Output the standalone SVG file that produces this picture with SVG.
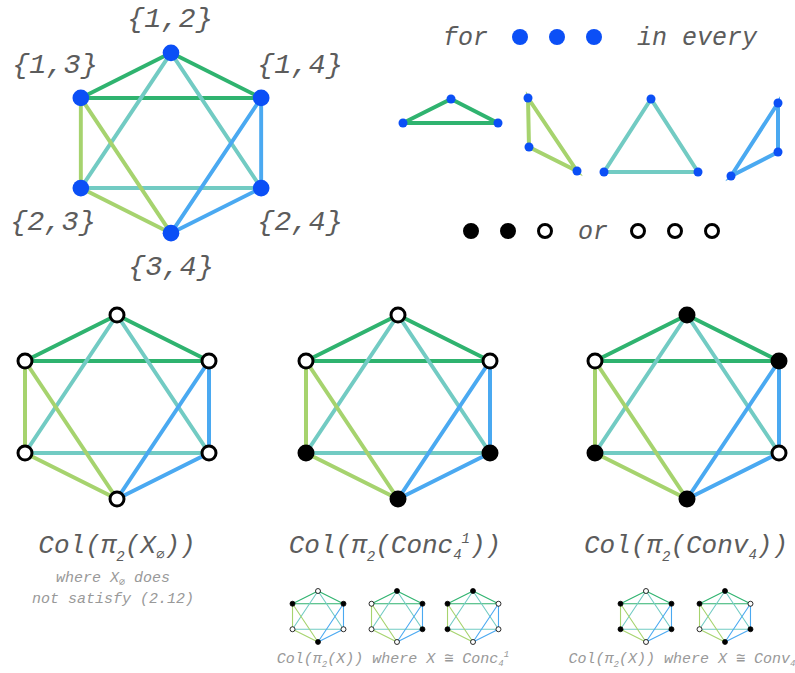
<svg xmlns="http://www.w3.org/2000/svg" xmlns:xlink="http://www.w3.org/1999/xlink" width="795" height="673" viewBox="0 0 795 673">
<style>
.t{font-family:"Liberation Mono","DejaVu Sans Mono",monospace;font-style:italic;fill:#5c5c5c}
.g{fill:#999}
.e{fill:none;stroke-width:4;stroke-linecap:round}
.dg{stroke:#2fb36f}
.lg{stroke:#a6d36e}
.tl{stroke:#72cbc3}
.bl{stroke:#4aa9f1}
.bn{fill:#0b4ff6}
.o{fill:#fff;stroke:#000;stroke-width:3}
.f{fill:#000;stroke:#000;stroke-width:3}
</style>
<defs>
<g id="hexEdges">
<line class="e dg" x1="0" y1="-92" x2="-92" y2="-46"/>
<line class="e dg" x1="0" y1="-92" x2="92" y2="-46"/>
<line class="e dg" x1="-92" y1="-46" x2="92" y2="-46"/>
<line class="e tl" x1="0" y1="-92" x2="-92" y2="46"/>
<line class="e tl" x1="0" y1="-92" x2="92" y2="46"/>
<line class="e tl" x1="-92" y1="46" x2="92" y2="46"/>
<line class="e lg" x1="-92" y1="-46" x2="-92" y2="46"/>
<line class="e lg" x1="-92" y1="-46" x2="0" y2="92"/>
<line class="e lg" x1="-92" y1="46" x2="0" y2="92"/>
<line class="e bl" x1="92" y1="-46" x2="92" y2="46"/>
<line class="e bl" x1="92" y1="-46" x2="0" y2="92"/>
<line class="e bl" x1="92" y1="46" x2="0" y2="92"/>
</g>
</defs>

<!-- top-left labelled hexagon -->
<g id="hexTop" transform="translate(171,143) scale(0.98)">
<g id="hexTop-edges"><use xlink:href="#hexEdges"/></g>
<g id="n12"><circle class="bn" cx="0" cy="-92" r="8.5"/></g>
<g id="n13"><circle class="bn" cx="-92" cy="-46" r="8.5"/></g>
<g id="n14"><circle class="bn" cx="92" cy="-46" r="8.5"/></g>
<g id="n23"><circle class="bn" cx="-92" cy="46" r="8.5"/></g>
<g id="n24"><circle class="bn" cx="92" cy="46" r="8.5"/></g>
<g id="n34"><circle class="bn" cx="0" cy="92" r="8.5"/></g>
</g>
<g id="hexTop-labels" class="t" font-size="28.5">
<text x="170" y="27" text-anchor="middle">{1,2}</text>
<text x="55" y="73" text-anchor="middle">{1,3}</text>
<text x="300" y="73" text-anchor="middle">{1,4}</text>
<text x="53" y="230" text-anchor="middle">{2,3}</text>
<text x="300" y="230" text-anchor="middle">{2,4}</text>
<text x="171" y="275" text-anchor="middle">{3,4}</text>
</g>

<!-- legend -->
<g id="legend">
<text class="t" x="443" y="45" font-size="25">for</text>
<circle class="bn" cx="520" cy="37" r="8"/>
<circle class="bn" cx="557" cy="37" r="8"/>
<circle class="bn" cx="594" cy="37" r="8"/>
<text class="t" x="637" y="45" font-size="25">in every</text>
<g id="tri1">
<polygon class="e dg" points="403,123 451,99 498,123"/>
<circle class="bn" cx="403" cy="123" r="4.5"/><circle class="bn" cx="451" cy="99" r="4.5"/><circle class="bn" cx="498" cy="123" r="4.5"/>
</g>
<g id="tri2">
<polygon class="e lg" points="528,98 529,147 577,171"/>
<circle class="bn" cx="528" cy="98" r="4.5"/><circle class="bn" cx="529" cy="147" r="4.5"/><circle class="bn" cx="577" cy="171" r="4.5"/>
</g>
<g id="tri3">
<polygon class="e tl" points="651,99 604,172 698,172"/>
<circle class="bn" cx="651" cy="99" r="4.5"/><circle class="bn" cx="604" cy="172" r="4.5"/><circle class="bn" cx="698" cy="172" r="4.5"/>
</g>
<g id="tri4">
<polygon class="e bl" points="778,103 778,152 731,176"/>
<circle class="bn" cx="778" cy="103" r="4.5"/><circle class="bn" cx="778" cy="152" r="4.5"/><circle class="bn" cx="731" cy="176" r="4.5"/>
</g>
<circle class="f" cx="471" cy="231" r="6.5"/>
<circle class="f" cx="508" cy="231" r="6.5"/>
<circle class="o" cx="545" cy="231" r="6.5"/>
<text class="t" x="578" y="239" font-size="25">or</text>
<circle class="o" cx="638" cy="231" r="6.5"/>
<circle class="o" cx="675" cy="231" r="6.5"/>
<circle class="o" cx="712" cy="231" r="6.5"/>
</g>

<!-- big bottom hexagons -->
<g id="hexA" transform="translate(117,407)">
<g id="hexA-edges"><use xlink:href="#hexEdges"/></g>
<g id="a12"><circle class="o" cx="0" cy="-92" r="7"/></g>
<g id="a13"><circle class="o" cx="-92" cy="-46" r="7"/></g>
<g id="a14"><circle class="o" cx="92" cy="-46" r="7"/></g>
<g id="a23"><circle class="o" cx="-92" cy="46" r="7"/></g>
<g id="a24"><circle class="o" cx="92" cy="46" r="7"/></g>
<g id="a34"><circle class="o" cx="0" cy="92" r="7"/></g>
</g>
<g id="hexB" transform="translate(398,407)">
<g id="hexB-edges"><use xlink:href="#hexEdges"/></g>
<g id="b12"><circle class="o" cx="0" cy="-92" r="7"/></g>
<g id="b13"><circle class="o" cx="-92" cy="-46" r="7"/></g>
<g id="b14"><circle class="o" cx="92" cy="-46" r="7"/></g>
<g id="b23"><circle class="f" cx="-92" cy="46" r="7"/></g>
<g id="b24"><circle class="f" cx="92" cy="46" r="7"/></g>
<g id="b34"><circle class="f" cx="0" cy="92" r="7"/></g>
</g>
<g id="hexC" transform="translate(687,407)">
<g id="hexC-edges"><use xlink:href="#hexEdges"/></g>
<g id="c12"><circle class="f" cx="0" cy="-92" r="7"/></g>
<g id="c13"><circle class="o" cx="-92" cy="-46" r="7"/></g>
<g id="c14"><circle class="f" cx="92" cy="-46" r="7"/></g>
<g id="c23"><circle class="f" cx="-92" cy="46" r="7"/></g>
<g id="c24"><circle class="o" cx="92" cy="46" r="7"/></g>
<g id="c34"><circle class="f" cx="0" cy="92" r="7"/></g>
</g>

<!-- captions -->
<text class="t" x="117" y="553" font-size="26" text-anchor="middle">Col(π<tspan font-size="14" dy="8">2</tspan><tspan dy="-8">(X</tspan><tspan font-size="14" dy="6">∅</tspan><tspan dy="-6">))</tspan></text>
<text class="t g" x="113" y="582" font-size="15" text-anchor="middle">where X<tspan font-size="10" dy="3">∅</tspan><tspan dy="-3"> does</tspan></text>
<text class="t g" x="113" y="603" font-size="15" text-anchor="middle">not satisfy (2.12)</text>

<text class="t" x="395" y="553" font-size="26" text-anchor="middle">Col(π<tspan font-size="14" dy="8">2</tspan><tspan dy="-8">(Conc</tspan><tspan font-size="14" dy="6">4</tspan><tspan font-size="14" dy="-16">1</tspan><tspan dy="10">))</tspan></text>
<text class="t" x="686" y="553" font-size="26" text-anchor="middle">Col(π<tspan font-size="14" dy="8">2</tspan><tspan dy="-8">(Conv</tspan><tspan font-size="14" dy="6">4</tspan><tspan dy="-6">))</tspan></text>

<!-- small hexagons: Conc -->
<g id="s1" transform="translate(318,616.5) scale(0.277)">
<g id="s1-edges"><use xlink:href="#hexEdges"/></g>
<circle class="o" cx="0" cy="-92" r="9" stroke-width="4"/>
<circle class="f" cx="-92" cy="-46" r="9"/>
<circle class="f" cx="92" cy="-46" r="9"/>
<circle class="o" cx="-92" cy="46" r="9" stroke-width="4"/>
<circle class="o" cx="92" cy="46" r="9" stroke-width="4"/>
<circle class="f" cx="0" cy="92" r="9"/>
</g>
<g id="s2" transform="translate(397,616.5) scale(0.277)">
<g id="s2-edges"><use xlink:href="#hexEdges"/></g>
<circle class="f" cx="0" cy="-92" r="9"/>
<circle class="o" cx="-92" cy="-46" r="9" stroke-width="4"/>
<circle class="f" cx="92" cy="-46" r="9"/>
<circle class="o" cx="-92" cy="46" r="9" stroke-width="4"/>
<circle class="f" cx="92" cy="46" r="9"/>
<circle class="o" cx="0" cy="92" r="9" stroke-width="4"/>
</g>
<g id="s3" transform="translate(473,616.5) scale(0.277)">
<g id="s3-edges"><use xlink:href="#hexEdges"/></g>
<circle class="f" cx="0" cy="-92" r="9"/>
<circle class="f" cx="-92" cy="-46" r="9"/>
<circle class="o" cx="92" cy="-46" r="9" stroke-width="4"/>
<circle class="f" cx="-92" cy="46" r="9"/>
<circle class="o" cx="92" cy="46" r="9" stroke-width="4"/>
<circle class="o" cx="0" cy="92" r="9" stroke-width="4"/>
</g>
<!-- small hexagons: Conv -->
<g id="s4" transform="translate(646,616.5) scale(0.277)">
<g id="s4-edges"><use xlink:href="#hexEdges"/></g>
<circle class="o" cx="0" cy="-92" r="9" stroke-width="4"/>
<circle class="f" cx="-92" cy="-46" r="9"/>
<circle class="f" cx="92" cy="-46" r="9"/>
<circle class="f" cx="-92" cy="46" r="9"/>
<circle class="f" cx="92" cy="46" r="9"/>
<circle class="o" cx="0" cy="92" r="9" stroke-width="4"/>
</g>
<g id="s5" transform="translate(725,616.5) scale(0.277)">
<g id="s5-edges"><use xlink:href="#hexEdges"/></g>
<circle class="f" cx="0" cy="-92" r="9"/>
<circle class="f" cx="-92" cy="-46" r="9"/>
<circle class="o" cx="92" cy="-46" r="9" stroke-width="4"/>
<circle class="o" cx="-92" cy="46" r="9" stroke-width="4"/>
<circle class="f" cx="92" cy="46" r="9"/>
<circle class="f" cx="0" cy="92" r="9"/>
</g>

<text class="t g" x="393" y="663" font-size="15" text-anchor="middle">Col(π<tspan font-size="9" dy="4">2</tspan><tspan dy="-4">(X)) where X ≅ Conc</tspan><tspan font-size="9" dy="3">4</tspan><tspan font-size="9" dy="-9">1</tspan></text>
<text class="t g" x="682" y="663" font-size="15" text-anchor="middle">Col(π<tspan font-size="9" dy="4">2</tspan><tspan dy="-4">(X)) where X ≅ Conv</tspan><tspan font-size="9" dy="3">4</tspan></text>
</svg>
